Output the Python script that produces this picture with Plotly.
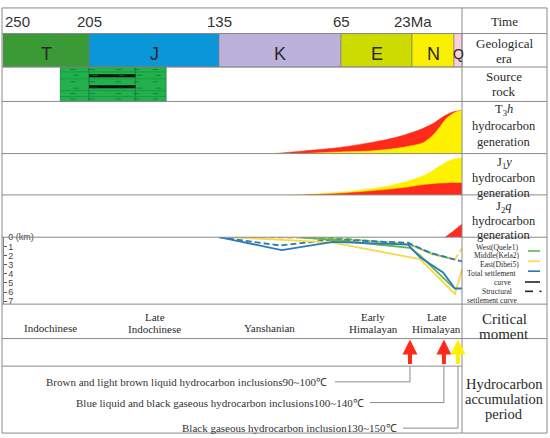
import numpy as np
import plotly.graph_objects as go

# ---------------- data ----------------
TIME_TICKS = [250, 205, 135, 65, 23]
TIME_TICK_TEXT = ["250", "205", "135", "65", "23Ma"]

ERA_NAMES = ["T", "J", "K", "E", "N", "Q"]
ERA_START = [250, 205, 135, 65, 23, 2.6]
ERA_END = [205, 135, 65, 23, 2.6, 0]
ERA_COLORS = ["#3a9a35", "#0a96d8", "#bcb1db", "#cddc00", "#fbef00", "#f9d0e0"]

SOURCE_START = [220, 205, 180]
SOURCE_END = [205, 180, 163.5]
COAL_START = [205, 205]
COAL_END = [180, 180]

# hydrocarbon generation (Ma, fraction of row height)
T3H_RED_MA = [103, 86.6, 67.5, 47.8, 37.9, 28.1, 19.1, 12.6, 7.8, 3.8, 0]
T3H_RED_V = [0, 0.05, 0.11, 0.21, 0.27, 0.35, 0.46, 0.58, 0.71, 0.79, 0.83]
T3H_YEL_MA = [86.6, 67.5, 47.8, 32.1, 24.2, 17.5, 12.6, 9.3, 6.1, 2.3, 0]
T3H_YEL_V = [0, 0.03, 0.05, 0.10, 0.145, 0.21, 0.36, 0.52, 0.68, 0.79, 0.83]

J1Y_YEL_MA = [94.9, 77.0, 57.7, 37.9, 24.2, 15.9, 9.5, 4.7, 1.7, 0]
J1Y_YEL_V = [0, 0.03, 0.095, 0.21, 0.35, 0.50, 0.70, 0.83, 0.88, 0.90]
J1Y_RED_MA = [86.6, 67.5, 47.8, 28.1, 19.1, 11.0, 4.5, 0]
J1Y_RED_V = [0, 0.03, 0.09, 0.17, 0.23, 0.27, 0.29, 0.29]

J2Q_RED_MA = [7.0, 3.0, 0]
J2Q_RED_V = [0, 0.14, 0.31]

# burial / settlement (Ma, depth km)
EAST_TOTAL_MA = [135, 99, 69.6, 25.4, 19.1, 7.9, 2.3, 0]
EAST_TOTAL_D = [0, 1.4, 0.5, 0.8, 2.2, 3.85, 5.6, 5.6]
EAST_STRUCT_MA = [135, 100, 69.6, 25.4, 14.3, 3.1, 0]
EAST_STRUCT_D = [0, 0.9, 0.25, 0.6, 1.7, 2.4, 2.65]
WEST_TOTAL_MA = [88, 69.6, 24.2, 19.1, 3.1, 2.3]
WEST_TOTAL_D = [0, 0.3, 1.15, 2.0, 5.45, 5.6]
WEST_STRUCT_MA = [88, 67, 24.2, 12.8, 3.1]
WEST_STRUCT_D = [0, 0.1, 0.8, 1.8, 2.4]
MID_TOTAL_MA = [127, 69.6, 19.1, 2.3, 0]
MID_TOTAL_D = [0, 0.6, 2.4, 6.2, 3.5]
MID_STRUCT_MA = [127, 69.6, 25.4, 13, 2.3, 0]
MID_STRUCT_D = [0, 0.15, 0.7, 1.9, 2.45, 1.2]
DEPTH_TICKS = [0, 1, 2, 3, 4, 5, 6, 7]
DEPTH_TICK_TEXT = ["0 (km)", "1", "2", "3", "4", "5", "6", "7"]

CRITICAL_LABELS = ["Indochinese", "Late<br>Indochinese", "Yanshanian",
                   "Early<br>Himalayan", "Late<br>Himalayan"]
CRITICAL_MA = [225, 169.5, 106, 46, 11]

ACCUM_MA = [24.2, 7.5, 1.3]
ACCUM_COLORS = ["#ff2a1a", "#ff2a1a", "#fff200"]
INCLUSION_LABELS = [
    "Brown and light brown liquid hydrocarbon inclusions90~100℃",
    "Blue liquid and black gaseous hydrocarbon inclusions100~140℃",
    "Black gaseous hydrocarbon inclusion130~150℃",
]

# ---------------- scale (piecewise time axis) ----------------
SCALE_MA = [250, 205, 135, 65, 23, 2.6, 0]
SCALE_X = [3, 89, 219, 341, 412, 454, 462]


def tx(ma):
    return np.interp(-np.asarray(ma, dtype=float), -np.array(SCALE_MA, float), SCALE_X)


W, H = 550, 438
SERIF = "Liberation Serif, Times New Roman, serif"
SANS = "Liberation Sans, Arial, sans-serif"
GRID = "#8a8a8a"
RED = "#ff2a1a"
YEL = "#fff200"
C_GREEN = "#62b54a"
C_YEL = "#f6d84a"
C_BLUE = "#2a7bb9"

fig = go.Figure()

# era bars
es = tx(ERA_START)
ee = tx(ERA_END)
fig.add_trace(go.Bar(orientation="h", base=es, x=ee - es, y=[46] * len(ERA_NAMES), width=34,
                     marker=dict(color=ERA_COLORS, line=dict(color="#7a7a7a", width=0.6)),
                     hoverinfo="skip", showlegend=False))
# source rock
ss = tx(SOURCE_START)
se = tx(SOURCE_END)
fig.add_trace(go.Bar(orientation="h", base=ss, x=se - ss, y=[80.5] * 3, width=35,
                     marker=dict(color="#22b14c", line=dict(color="#15803a", width=0.8)),
                     hoverinfo="skip", showlegend=False))
x0s, x1s = tx([SOURCE_START[0]])[0], tx([SOURCE_END[-1]])[0]
for yy in [68, 75, 87, 93]:
    fig.add_trace(go.Scatter(x=[x0s, x1s], y=[yy, yy], mode="lines",
                             line=dict(color="#17903f", width=0.7), hoverinfo="skip", showlegend=False))
cs = tx(COAL_START)
ce = tx(COAL_END)
fig.add_trace(go.Bar(orientation="h", base=cs, x=ce - cs, y=[72, 83], width=3,
                     marker=dict(color="#111111", line=dict(width=0)),
                     hoverinfo="skip", showlegend=False))
# small dash marks in the source rock
dx = []
dy = []
for yy in [65.5, 71.5, 78, 84.5, 90, 95.5]:
    for frac in [0.12, 0.3, 0.55, 0.72, 0.9]:
        dx.append(x0s + (x1s - x0s) * frac + (3 if yy in (71.5, 84.5) else 0))
        dy.append(yy)
fig.add_trace(go.Scatter(x=dx, y=dy, mode="markers",
                         marker=dict(symbol="line-ew", size=4, line=dict(color="#137a33", width=0.8)),
                         hoverinfo="skip", showlegend=False))


def area(ma, v, color, yaxis):
    fig.add_trace(go.Scatter(x=tx(ma), y=v, mode="lines", fill="tozeroy", fillcolor=color,
                             line=dict(color=color, width=0.5, shape="spline", smoothing=0.8),
                             yaxis=yaxis, hoverinfo="skip", showlegend=False))


area(T3H_RED_MA, T3H_RED_V, RED, "y2")
area(T3H_YEL_MA, T3H_YEL_V, YEL, "y2")
area(J1Y_YEL_MA, J1Y_YEL_V, YEL, "y3")
area(J1Y_RED_MA, J1Y_RED_V, RED, "y3")
area(J2Q_RED_MA, J2Q_RED_V, RED, "y4")


def burial(ma, d, color, dash):
    fig.add_trace(go.Scatter(x=tx(ma), y=d, mode="lines",
                             line=dict(color=color, width=1.8, dash=dash),
                             yaxis="y5", hoverinfo="skip", showlegend=False))


burial(MID_STRUCT_MA, MID_STRUCT_D, C_YEL, "6px,3px")
burial(WEST_STRUCT_MA, WEST_STRUCT_D, C_GREEN, "6px,3px")
burial(EAST_STRUCT_MA, EAST_STRUCT_D, C_BLUE, "6px,3px")
burial(MID_TOTAL_MA, MID_TOTAL_D, C_YEL, "solid")
burial(WEST_TOTAL_MA, WEST_TOTAL_D, C_GREEN, "solid")
burial(EAST_TOTAL_MA, EAST_TOTAL_D, C_BLUE, "solid")

# leader lines for inclusions
LEADER_Y = [383, 404, 430]
LEADER_END = [335, 370, 403]
ax_ = tx(ACCUM_MA)
for i in range(3):
    fig.add_trace(go.Scatter(x=[ax_[i], ax_[i], LEADER_END[i]], y=[367, LEADER_Y[i], LEADER_Y[i]],
                             mode="lines", line=dict(color="#8a8a8a", width=1),
                             hoverinfo="skip", showlegend=False))

shapes = []


def hline(y, x0=2, x1=547, color=GRID, w=1):
    shapes.append(dict(type="line", xref="x", yref="y", x0=x0, x1=x1, y0=y, y1=y,
                       line=dict(color=color, width=w), layer="above"))


def vline(x, y0, y1, color=GRID, w=1):
    shapes.append(dict(type="line", xref="x", yref="y", x0=x, x1=x, y0=y0, y1=y1,
                       line=dict(color=color, width=w), layer="above"))


shapes.append(dict(type="rect", xref="x", yref="y", x0=2, x1=547, y0=3, y1=435,
                   line=dict(color=GRID, width=1), layer="above"))
for yy in [29, 63, 98, 151, 193, 236, 304, 339]:
    hline(yy)
hline(367, 2, 462)
vline(462, 3, 435)

# settlement legend keys
shapes.append(dict(type="line", xref="x", yref="y", x0=528, x1=540, y0=250, y1=250,
                   line=dict(color=C_GREEN, width=1.6)))
shapes.append(dict(type="line", xref="x", yref="y", x0=528, x1=540, y0=260.5, y1=260.5,
                   line=dict(color=C_YEL, width=1.6)))
shapes.append(dict(type="line", xref="x", yref="y", x0=528, x1=540, y0=270.5, y1=270.5,
                   line=dict(color=C_BLUE, width=1.6)))
shapes.append(dict(type="line", xref="x", yref="y", x0=525, x1=540, y0=281.5, y1=281.5,
                   line=dict(color="#222", width=1.6)))
shapes.append(dict(type="line", xref="x", yref="y", x0=525, x1=533, y0=291, y1=291,
                   line=dict(color="#222", width=1.6)))
shapes.append(dict(type="line", xref="x", yref="y", x0=539.5, x1=541.5, y0=291, y1=291,
                   line=dict(color="#222", width=1.6)))

ann = []


def txt(x, y, s, size, family=SERIF, xanchor="center", color="#2a2a2a"):
    ann.append(dict(x=x, y=y, xref="x", yref="y", text=s, showarrow=False, xanchor=xanchor,
                    yanchor="middle", font=dict(size=size, family=family, color=color)))


# time ticks
for ma, lab in zip(TIME_TICKS, TIME_TICK_TEXT):
    xx = tx([ma])[0]
    if lab == "250":
        txt(xx, 17, lab, 15, SANS, xanchor="left", color="#333")
    elif lab == "23Ma":
        txt(xx + 1, 17, lab, 15, SANS, color="#333")
    else:
        txt(xx, 17, lab, 15, SANS, color="#333")
# era letters
for n, a, b in zip(ERA_NAMES, ERA_START, ERA_END):
    xc = tx([(a + b) / 2])[0]
    txt(xc, 50, n, 18 if n != "Q" else 14, SANS, color="#2a2a2a")

# right column
RX = 504
txt(RX, 17, "Time", 13)
txt(RX, 39, "Geological", 13)
txt(RX, 54, "era", 13)
txt(RX, 73, "Source", 13)
txt(RX, 88, "rock", 13)
for y0, lab, d1, d2 in [(107, "T<sub>3</sub><i>h</i>", 16, 32),
                        (161, "J<sub>1</sub><i>y</i>", 15, 30),
                        (205, "J<sub>2</sub><i>q</i>", 15, 29)]:
    txt(RX, y0, lab, 12.5)
    txt(RX, y0 + d1, "hydrocarbon", 12.5)
    txt(RX, y0 + d2, "generation", 12.5)
txt(RX, 319, "Critical", 15)
txt(RX, 334, "moment", 15)
txt(RX, 385, "Hydrocarbon", 14.5)
txt(RX, 400, "accumulation", 14.5)
txt(RX, 416, "period", 14.5)

LEG = [("West(Quele1)", 497, 246), ("Middle(Kela2)", 497, 255), ("East(Dibei5)", 499, 263.5),
       ("Total settlement", 491, 272.5), ("curve", 502, 281.5), ("Structural", 497, 291),
       ("settlement curve", 492, 300)]
for s, x, y in LEG:
    txt(x, y, s, 7.6)

# critical moments
for lab, ma in zip(CRITICAL_LABELS, CRITICAL_MA):
    xc = tx([ma])[0]
    parts = lab.split("<br>")
    if len(parts) == 1:
        txt(xc, 328, parts[0], 11)
    else:
        txt(xc, 317, parts[0], 11)
        txt(xc, 329, parts[1], 11)

# accumulation arrows
for xa, col in zip(ax_, ACCUM_COLORS):
    ann.append(dict(x=xa, y=340, xref="x", yref="y", ax=0, ay=26, axref="pixel", ayref="pixel",
                    text="", showarrow=True, arrowhead=2, arrowsize=0.75, arrowwidth=4,
                    arrowcolor=col))
# inclusion labels
for s, xe, yy in zip(INCLUSION_LABELS, [329, 366, 399], LEADER_Y):
    txt(xe, yy, s, 11, xanchor="right", color="#333")

dom = lambda top, bot: [1 - bot / H, 1 - top / H]

fig.update_layout(
    width=W, height=H, margin=dict(l=0, r=0, t=0, b=0),
    paper_bgcolor="white", plot_bgcolor="rgba(0,0,0,0)",
    barmode="overlay", showlegend=False,
    xaxis=dict(range=[0, W], visible=False, fixedrange=True),
    yaxis=dict(range=[H, 0], visible=False, domain=[0, 1]),
    yaxis2=dict(range=[0, 1], domain=dom(98, 151), visible=False, anchor="x"),
    yaxis3=dict(range=[0, 1], domain=dom(151, 193), visible=False, anchor="x"),
    yaxis4=dict(range=[0, 1], domain=dom(193, 236), visible=False, anchor="x"),
    yaxis5=dict(range=[68 / 9.3, 0], domain=dom(236, 304), anchor="free", position=3 / W,
                tickvals=DEPTH_TICKS, ticktext=DEPTH_TICK_TEXT, ticks="inside", ticklen=3,
                tickcolor="#555", ticklabelposition="inside", ticklabeloverflow="allow",
                showgrid=False, zeroline=False,
                showline=True, linecolor=GRID, tickfont=dict(size=9, family=SANS, color="#444")),
    shapes=shapes, annotations=ann,
)

fig.write_html("out.html", config={"displayModeBar": False},
               post_script="document.body.style.margin='0';document.body.style.padding='0';")
